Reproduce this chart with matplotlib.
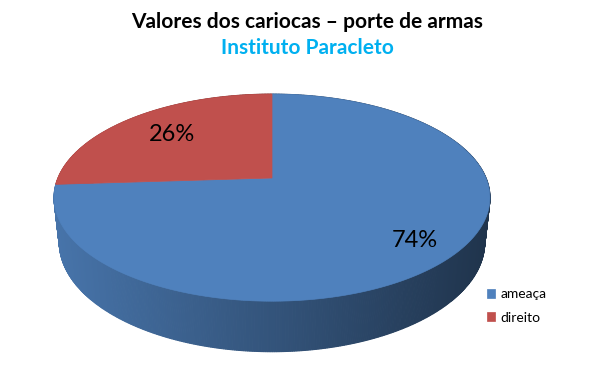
import numpy as np
import matplotlib.pyplot as plt
from matplotlib.colors import to_rgb

labels = ['ameaça', 'direito']
values = [74, 26]
colors = ['#4f81bd', '#c0504d']
title = 'Valores dos cariocas – porte de armas'
subtitle = 'Instituto Paracleto'

plt.rcParams['font.family'] = ['Lato', 'DejaVu Sans']

# perspective of the 3D pie (pixel space)
CX, CY = 272, 178
S = 214
a = np.radians(27.8)
D = 4.66
H = 0.238


def proj(x, y, z):
    depth = y * np.cos(a) - z * np.sin(a)
    up = y * np.sin(a) + z * np.cos(a)
    w = 1 + depth / D
    return CX + S * x / w, CY - S * up / w


fig = plt.figure(figsize=(6.15, 3.84), dpi=100)
ax = fig.add_axes([0, 0, 1, 1])
ax.set_xlim(0, 615)
ax.set_ylim(384, 0)
ax.axis('off')

fracs = np.array(values) / sum(values)
edges = np.concatenate([[0], np.cumsum(fracs)]) * 2 * np.pi

# side wall, drawn back to front
segs = []
for k in range(len(values)):
    phis = np.linspace(edges[k], edges[k + 1], int(720 * fracs[k]) + 2)
    for p1, p2 in zip(phis[:-1], phis[1:]):
        segs.append((np.cos((p1 + p2) / 2), p1, p2, k))
segs.sort(key=lambda s: -s[0])
for _, p1, p2, k in segs:
    xs, ys = [], []
    for p, z in [(p1, 0), (p2, 0), (p2, -H), (p1, -H)]:
        px, py = proj(np.sin(p), np.cos(p), z)
        xs.append(px)
        ys.append(py)
    mx = np.mean(xs)
    f = 0.9 - 0.5 * (mx - 56) / (488 - 56)
    f = min(max(f, 0.38), 0.92)
    c = np.array(to_rgb(colors[k])) * f
    ax.fill(xs, ys, color=c, ec=c, lw=0.8)

# top face
handles = []
for k in range(len(values)):
    phis = np.linspace(edges[k], edges[k + 1], 300)
    pts = [proj(0, 0, 0)] + [proj(np.sin(p), np.cos(p), 0) for p in phis]
    xs, ys = zip(*pts)
    h = ax.fill(xs, ys, color=colors[k], ec=colors[k], lw=0.5, label=labels[k])[0]
    handles.append(h)

# data labels
lab_r = [0.82, 0.7]
for k in range(len(values)):
    mid = (edges[k] + edges[k + 1]) / 2
    r = lab_r[k]
    px, py = proj(r * np.sin(mid), r * np.cos(mid), 0)
    ax.text(px, py, f'{values[k]}%', ha='center', va='center', fontsize=17, color='black')

ax.text(307, 22, title, ha='center', va='center', fontsize=15, fontweight='bold', color='black')
ax.text(307, 48, subtitle, ha='center', va='center', fontsize=15, fontweight='bold', color='#00b0f0')

ax.legend(handles=handles, loc='upper left', bbox_to_anchor=(474 / 615, 1 - 276 / 384),
          frameon=False, handlelength=0.6, handleheight=0.6, handletextpad=0.4,
          labelspacing=0.8, fontsize=10)

fig.savefig('out.png', dpi=100)
